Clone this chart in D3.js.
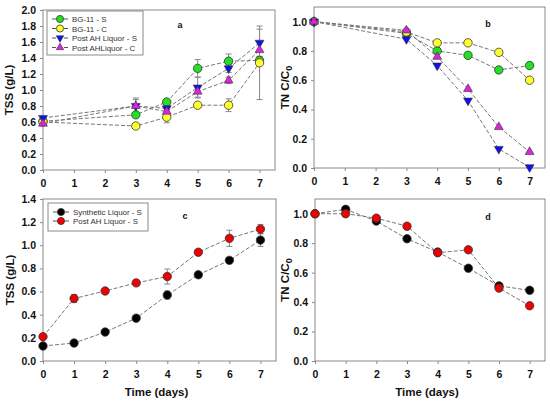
<!DOCTYPE html>
<html lang="en">
<head>
    <meta charset="UTF-8">
    <title>TSS and TN panels</title>
    <style>
        body { margin: 0; background: white; }
        svg { display: block; font-family: "Liberation Sans", Arial, sans-serif; }
        .tick text { font-weight: bold; font-size: 10.5px; fill: #111; }
        .axis-title { font-weight: bold; font-size: 11.5px; fill: #111; }
        .legend text { font-size: 7.9px; fill: #333; }
        .letter { font-weight: bold; font-size: 9px; fill: #111; }
    </style>
    <script src="https://d3js.org/d3.v7.min.js"></script>
</head>
<body>
<svg width="550" height="401"></svg>
<script>
// ---- data ----
const daysAB = [0, 3, 4, 5, 6, 7];
const daysCD = [0, 1, 2, 3, 4, 5, 6, 7];

// panel a: TSS (g/L)
const tssBg11S = [0.61, 0.69, 0.85, 1.27, 1.36, 1.37];
const tssBg11SErr = [0.02, 0.03, 0.03, 0.11, 0.09, 0.05];
const tssBg11C = [0.60, 0.55, 0.66, 0.81, 0.81, 1.34];
const tssBg11CErr = [0.02, 0.03, 0.07, 0.03, 0.08, 0.46];
const tssPostS = [0.65, 0.80, 0.77, 1.03, 1.27, 1.59];
const tssPostSErr = [0.02, 0.10, 0.04, 0.13, 0.05, 0.17];
const tssPostC = [0.58, 0.80, 0.73, 0.98, 1.12, 1.50];
const tssPostCErr = [0.02, 0.08, 0.03, 0.07, 0.04, 0.10];

// panel b: TN C/C0
const tnBg11S = [1.0, 0.92, 0.80, 0.77, 0.67, 0.70];
const tnBg11C = [1.0, 0.93, 0.855, 0.855, 0.79, 0.60];
const tnPostS = [1.0, 0.88, 0.70, 0.46, 0.13, 0.005];
const tnPostC = [1.0, 0.94, 0.76, 0.54, 0.28, 0.11];

// panel c: TSS (g/L)
const tssSynth = [0.13, 0.155, 0.25, 0.37, 0.57, 0.745, 0.87, 1.045];
const tssSynthErr = [0.01, 0.01, 0.01, 0.01, 0.035, 0.01, 0.01, 0.055];
const tssPostAh = [0.21, 0.54, 0.605, 0.675, 0.73, 0.94, 1.06, 1.14];
const tssPostAhErr = [0.01, 0.035, 0.01, 0.025, 0.065, 0.01, 0.07, 0.04];

// panel d: TN C/C0
const tnSynth = [1.0, 1.03, 0.95, 0.83, 0.74, 0.63, 0.51, 0.48];
const tnPostAh = [1.0, 1.0, 0.97, 0.915, 0.735, 0.755, 0.495, 0.375];

const xTicks = [0, 1, 2, 3, 4, 5, 6, 7];
const legendTop = ["BG-11 - S", "BG-11 - C", "Post AH Liquor - S", "Post AHLiquor - C"];
const legendBottom = ["Synthetic Liquor - S", "Post AH Liquor - S"];

const styles = {
    green:   { fill: "#22e022", shape: "circle" },
    yellow:  { fill: "#ffff30", shape: "circle" },
    blue:    { fill: "#1010ee", shape: "down" },
    magenta: { fill: "#e020e0", shape: "up" },
    black:   { fill: "#000000", shape: "circle" },
    red:     { fill: "#f00000", shape: "circle" }
};

const svg = d3.select("svg");

function drawMarker(g, x, y, st, scale = 1) {
    if (st.shape === "circle") {
        g.append("circle").attr("cx", x).attr("cy", y).attr("r", 4.2 * scale)
            .attr("fill", st.fill).attr("stroke", "#333").attr("stroke-width", 0.8);
    } else {
        const sym = d3.symbol().type(d3.symbolTriangle).size(34 * scale * scale);
        g.append("path").attr("d", sym())
            .attr("transform", `translate(${x},${y})` + (st.shape === "down" ? " rotate(180)" : ""))
            .attr("fill", st.fill).attr("stroke", "#333").attr("stroke-width", 0.6);
    }
}

function panel(opt) {
    const x = d3.scaleLinear().domain([0, 7.5]).range([opt.left, opt.right]);
    const y = d3.scaleLinear().domain([0, opt.ymax]).range([opt.bottom, opt.top]);
    const g = svg.append("g");

    // frame
    g.append("rect").attr("x", opt.left).attr("y", opt.top)
        .attr("width", opt.right - opt.left).attr("height", opt.bottom - opt.top)
        .attr("fill", "none").attr("stroke", "#8a8a8a").attr("stroke-width", 1);

    const xAxis = g.append("g").attr("transform", `translate(0,${opt.bottom})`)
        .call(d3.axisBottom(x).tickValues(xTicks).tickSize(3).tickPadding(7).tickFormat(d3.format("d")));
    const yAxis = g.append("g").attr("transform", `translate(${opt.left},0)`)
        .call(d3.axisLeft(y).tickValues(opt.yTicks).tickSize(3).tickPadding(4).tickFormat(d3.format(".1f")));
    [xAxis, yAxis].forEach(a => {
        a.select(".domain").remove();
        a.selectAll(".tick line").attr("stroke", "#8a8a8a");
    });

    // y title
    const yt = g.append("text").attr("class", "axis-title")
        .attr("transform", `translate(${opt.ytitleX},${(opt.top + opt.bottom) / 2}) rotate(-90)`)
        .attr("text-anchor", "middle");
    if (opt.tn) {
        yt.append("tspan").text("TN C/C");
        yt.append("tspan").text("0").attr("dy", 3).attr("font-size", "9px");
    } else {
        yt.text("TSS (g/L)");
    }
    if (opt.xtitle) {
        g.append("text").attr("class", "axis-title")
            .attr("x", (opt.left + opt.right) / 2 - 3).attr("y", opt.bottom + 35)
            .attr("text-anchor", "middle").text("Time (days)");
    }

    g.append("text").attr("class", "letter").attr("x", opt.letterX).attr("y", opt.letterY)
        .attr("text-anchor", "middle").text(opt.letter);

    const line = d3.line().x(d => x(d[0])).y(d => y(d[1]));
    opt.series.forEach(s => {
        const pts = opt.days.map((d, i) => [d, s.values[i]]);
        g.append("path").attr("d", line(pts)).attr("fill", "none")
            .attr("stroke", "#777").attr("stroke-width", 1).attr("stroke-dasharray", "4,2");
    });
    opt.series.forEach(s => {
        if (!s.err) return;
        opt.days.forEach((d, i) => {
            const cx = x(d), y1 = y(s.values[i] - s.err[i]), y2 = y(s.values[i] + s.err[i]);
            const eg = g.append("g").attr("stroke", "#888").attr("stroke-width", 1);
            eg.append("line").attr("x1", cx).attr("x2", cx).attr("y1", y1).attr("y2", y2);
            eg.append("line").attr("x1", cx - 3).attr("x2", cx + 3).attr("y1", y1).attr("y2", y1);
            eg.append("line").attr("x1", cx - 3).attr("x2", cx + 3).attr("y1", y2).attr("y2", y2);
        });
    });
    opt.series.forEach(s => {
        opt.days.forEach((d, i) => drawMarker(g, x(d), y(s.values[i]), styles[s.style]));
    });

    if (opt.legend) {
        const L = opt.legend;
        const lg = g.append("g").attr("class", "legend");
        lg.append("rect").attr("x", L.x).attr("y", L.y).attr("width", L.w).attr("height", L.h)
            .attr("fill", "white").attr("stroke", "#8a8a8a").attr("stroke-width", 1);
        L.labels.forEach((lab, i) => {
            const ry = L.y + L.first + i * L.step;
            const st = styles[opt.series[i].style];
            lg.append("line").attr("x1", L.x + 5).attr("x2", L.x + 21).attr("y1", ry).attr("y2", ry)
                .attr("stroke", "#555").attr("stroke-width", 1).attr("stroke-dasharray", "4,2");
            drawMarker(lg, L.x + 13, ry, st, 0.85);
            lg.append("text").attr("x", L.x + 25).attr("y", ry + 3).text(lab);
        });
    }
}

const tssTicksA = d3.range(0, 11).map(i => i * 0.2);
const tnTicks = d3.range(0, 6).map(i => i * 0.2);
const tssTicksC = d3.range(0, 8).map(i => i * 0.2);

panel({
    left: 43, right: 275, top: 10, bottom: 170, ymax: 2.0, yTicks: tssTicksA,
    days: daysAB, ytitleX: 13, letter: "a", letterX: 180, letterY: 28,
    series: [
        { values: tssBg11S, err: tssBg11SErr, style: "green" },
        { values: tssBg11C, err: tssBg11CErr, style: "yellow" },
        { values: tssPostS, err: tssPostSErr, style: "blue" },
        { values: tssPostC, err: tssPostCErr, style: "magenta" }
    ],
    legend: { x: 47, y: 11, w: 96, h: 44, first: 8, step: 9.5, labels: legendTop }
});

panel({
    left: 314, right: 545, top: 7, bottom: 168, ymax: 1.1, yTicks: tnTicks, tn: true,
    days: daysAB, ytitleX: 289, letter: "b", letterX: 488, letterY: 27,
    series: [
        { values: tnBg11S, style: "green" },
        { values: tnBg11C, style: "yellow" },
        { values: tnPostS, style: "blue" },
        { values: tnPostC, style: "magenta" }
    ]
});

panel({
    left: 43, right: 276, top: 199, bottom: 361, ymax: 1.4, yTicks: tssTicksC,
    days: daysCD, ytitleX: 14, letter: "c", letterX: 185, letterY: 219, xtitle: true,
    series: [
        { values: tssSynth, err: tssSynthErr, style: "black" },
        { values: tssPostAh, err: tssPostAhErr, style: "red" }
    ],
    legend: { x: 48, y: 203, w: 100, h: 28, first: 9, step: 9, labels: legendBottom }
});

panel({
    left: 315, right: 545, top: 199, bottom: 361, ymax: 1.1, yTicks: tnTicks, tn: true,
    days: daysCD, ytitleX: 289, letter: "d", letterX: 488, letterY: 220, xtitle: true,
    series: [
        { values: tnSynth, style: "black" },
        { values: tnPostAh, style: "red" }
    ]
});
</script>
</body>
</html>
